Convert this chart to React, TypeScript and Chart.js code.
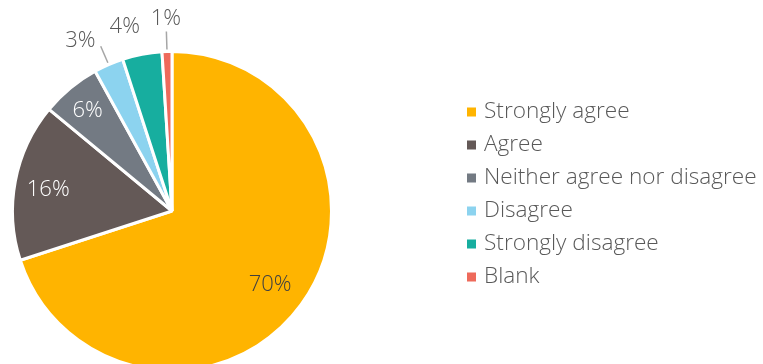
import React, { useEffect, useRef } from "react";
import { Chart, registerables } from "chart.js";

Chart.register(...registerables);

const categories = [
  "Strongly agree",
  "Agree",
  "Neither agree nor disagree",
  "Disagree",
  "Strongly disagree",
  "Blank",
];
const values = [70, 16, 6, 3, 4, 1];
const valueLabels = ["70%", "16%", "6%", "3%", "4%", "1%"];
const colors = ["#FFB400", "#645957", "#737A83", "#8CD3EF", "#17AE9F", "#EE6A5B"];

// label styling (not data)
const labelStyle = [
  { inside: true, r: 0.76, color: "#404040", dx: 0, dy: 0, leader: false },
  { inside: true, r: 0.79, color: "#FFFFFF", dx: 0, dy: 0, leader: false },
  { inside: true, r: 0.83, color: "#FFFFFF", dx: 0, dy: 0, leader: false },
  { inside: false, r: 36, color: "#595959", dx: -14, dy: 7, leader: true },
  { inside: false, r: 34, color: "#595959", dx: -11, dy: 4, leader: false },
  { inside: false, r: 35, color: "#595959", dx: 0, dy: 0, leader: true },
];

const FONT_FAMILY = "'Open Sans', Lato, 'Liberation Sans', sans-serif";
const TEXT_COLOR = "#595959";

const labelPlugin = {
  id: "customLabels",
  afterDraw(chart: any) {
    const ctx = chart.ctx;
    const meta = chart.getDatasetMeta(0);
    ctx.save();
    ctx.font = `300 22px ${FONT_FAMILY}`;
    ctx.textAlign = "center";
    ctx.textBaseline = "middle";
    meta.data.forEach((arc: any, i: number) => {
      const p = arc.getProps(["x", "y", "startAngle", "endAngle", "outerRadius"], true);
      const mid = (p.startAngle + p.endAngle) / 2;
      const st = labelStyle[i];
      const R = p.outerRadius;
      let lx: number, ly: number;
      if (st.inside) {
        lx = p.x + Math.cos(mid) * R * st.r;
        ly = p.y + Math.sin(mid) * R * st.r;
      } else {
        lx = p.x + Math.cos(mid) * (R + st.r) + st.dx;
        ly = p.y + Math.sin(mid) * (R + st.r) + st.dy;
        if (st.leader) {
          ctx.strokeStyle = "#A6A6A6";
          ctx.lineWidth = 1.5;
          ctx.beginPath();
          ctx.moveTo(p.x + Math.cos(mid) * (R + 2), p.y + Math.sin(mid) * (R + 2));
          ctx.lineTo(p.x + Math.cos(mid) * (R + 20), p.y + Math.sin(mid) * (R + 20));
          ctx.stroke();
        }
      }
      ctx.fillStyle = st.color;
      ctx.fillText(valueLabels[i], lx, ly + 2);
    });

    // legend
    const legendX = 467;
    const legendTop = 112;
    const rowGap = 33;
    ctx.font = `300 22.6px ${FONT_FAMILY}`;
    ctx.textAlign = "left";
    categories.forEach((c, i) => {
      const y = legendTop + i * rowGap;
      ctx.fillStyle = colors[i];
      ctx.fillRect(legendX, y - 4.5, 9, 9);
      ctx.fillStyle = TEXT_COLOR;
      ctx.fillText(c, legendX + 17, y);
    });
    ctx.restore();
  },
};

export default function App() {
  const ref = useRef<HTMLCanvasElement | null>(null);
  useEffect(() => {
    if (!ref.current) return;
    const chart = new Chart(ref.current, {
      type: "pie",
      data: {
        labels: categories,
        datasets: [
          {
            data: values,
            backgroundColor: colors,
            borderColor: "#FFFFFF",
            borderWidth: 3,
          },
        ],
      },
      options: {
        responsive: false,
        animation: false,
        layout: { padding: { left: 11, top: 50, right: 430, bottom: 48 } },
        plugins: {
          legend: { display: false },
          tooltip: { enabled: false },
        },
      },
      plugins: [labelPlugin],
    });
    return () => chart.destroy();
  }, []);
  return (
    <div
      style={{
        position: "fixed",
        left: 0,
        top: 0,
        width: 763,
        height: 364,
        overflow: "hidden",
        background: "#FFFFFF",
      }}
    >
      <canvas ref={ref} width={763} height={420} style={{ width: 763, height: 420, display: "block" }} />
    </div>
  );
}
